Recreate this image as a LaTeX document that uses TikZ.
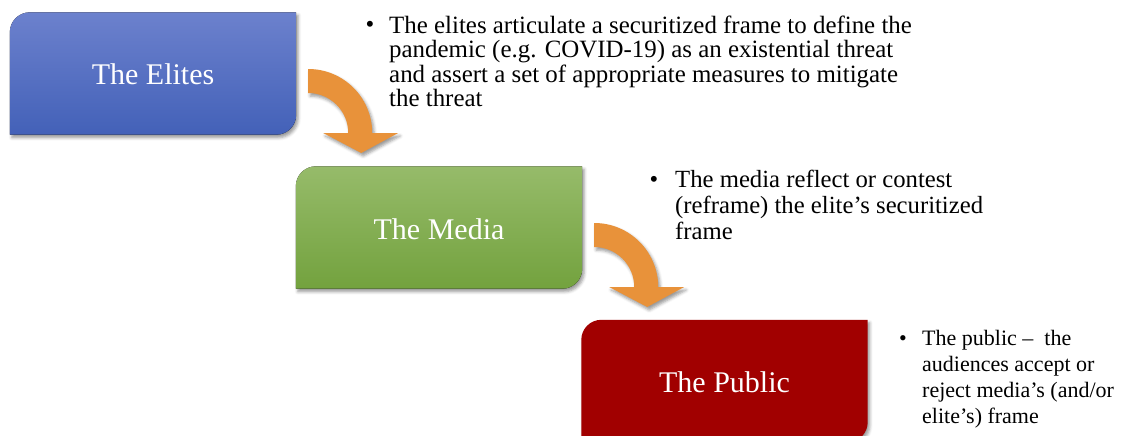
\documentclass[tikz,border=0pt]{standalone}
\usepackage{fontspec}
\setmainfont{Liberation Serif}
\usetikzlibrary{shadows.blur}

\definecolor{eliteTop}{RGB}{108,129,205}
\definecolor{eliteBottom}{RGB}{67,97,184}
\definecolor{mediaTop}{RGB}{150,187,106}
\definecolor{mediaBottom}{RGB}{115,162,62}
\definecolor{publicRed}{RGB}{161,0,0}
\definecolor{flowOrange}{RGB}{232,146,58}

\tikzset{
  stageframe/.style={minimum width=286pt, minimum height=122pt, inner sep=0pt},
  stagelabel/.style={inner sep=0pt, text=white, font=\fontsize{30}{30}\selectfont},
  softshadow/.style={blur shadow={shadow xshift=2pt, shadow yshift=-3pt,
    shadow blur radius=3pt, shadow opacity=40}},
  bullettext/.style={anchor=base west, align=left, inner sep=0pt},
  bulletmark/.style={anchor=base, inner sep=0pt},
  pics/bentarrow/.style={code={
    \fill[flowOrange, softshadow] (0,64) arc[start angle=90, end angle=0, radius=64]
      -- (90,0) -- (53,-20) -- (15,0) -- (40,0)
      arc[start angle=0, end angle=90, radius=40] -- cycle;
  }}
}

% stage box with rounded top-left and bottom-right corners
\newcommand{\diagbox}[2]{%
  \fill[softshadow, #2] (#1.south west) -- ([yshift=-20pt]#1.north west)
    arc[start angle=180, end angle=90, radius=20pt] -- (#1.north east)
    -- ([yshift=20pt]#1.south east)
    arc[start angle=0, end angle=-90, radius=20pt] -- cycle;}

\begin{document}
\begin{tikzpicture}[x=1pt, y=1pt]
\useasboundingbox (0,0) rectangle (1145,-436);
\clip (0,0) rectangle (1145,-436);

% frames of the three stages
\node[stageframe] (elites) at (153,-73.5) {};
\node[stageframe] (media)  at (439,-227.5) {};
\node[stageframe] (public) at (724.5,-381) {};

\diagbox{elites}{top color=eliteTop, bottom color=eliteBottom}
\diagbox{media}{top color=mediaTop, bottom color=mediaBottom}
\diagbox{public}{fill=publicRed}

\node[stagelabel] (elitesLabel) at ([yshift=-1pt]elites) {The Elites};
\node[stagelabel] (mediaLabel)  at ([yshift=-2pt]media)  {The Media};
\node[stagelabel] (publicLabel) at ([yshift=-1pt]public) {The Public};

% bent arrows leading from one stage to the next
\pic at ([xshift=12pt, yshift=-59.5pt]elites.east) {bentarrow};
\pic at ([xshift=12pt, yshift=-59.5pt]media.east) {bentarrow};

% explanations (text nodes sit on the baseline of their last line)
\node[bulletmark, font=\fontsize{24.9}{24.5}\selectfont] (b1) at (370,-33) {•};
\node[bullettext, font=\fontsize{24.9}{24.5}\selectfont] (t1) at (389,-106.5)
  {The elites articulate a securitized frame to define the\\
   pandemic (e.g. COVID-19) as an existential threat\\
   and assert a set of appropriate measures to mitigate\\
   the threat};

\node[bulletmark, font=\fontsize{24.7}{26}\selectfont] (b2) at (654,-187) {•};
\node[bullettext, font=\fontsize{24.7}{26}\selectfont] (t2) at (675,-239)
  {The media reflect or contest\\
   (reframe) the elite’s securitized\\
   frame};

\node[bulletmark, font=\fontsize{22}{26}\selectfont] (b3) at (903,-345) {•};
\node[bullettext, font=\fontsize{22}{26}\selectfont] (t3) at (922,-423)
  {The public – \ the\\
   audiences accept or\\
   reject media’s (and/or\\
   elite’s) frame};
\end{tikzpicture}
\end{document}
